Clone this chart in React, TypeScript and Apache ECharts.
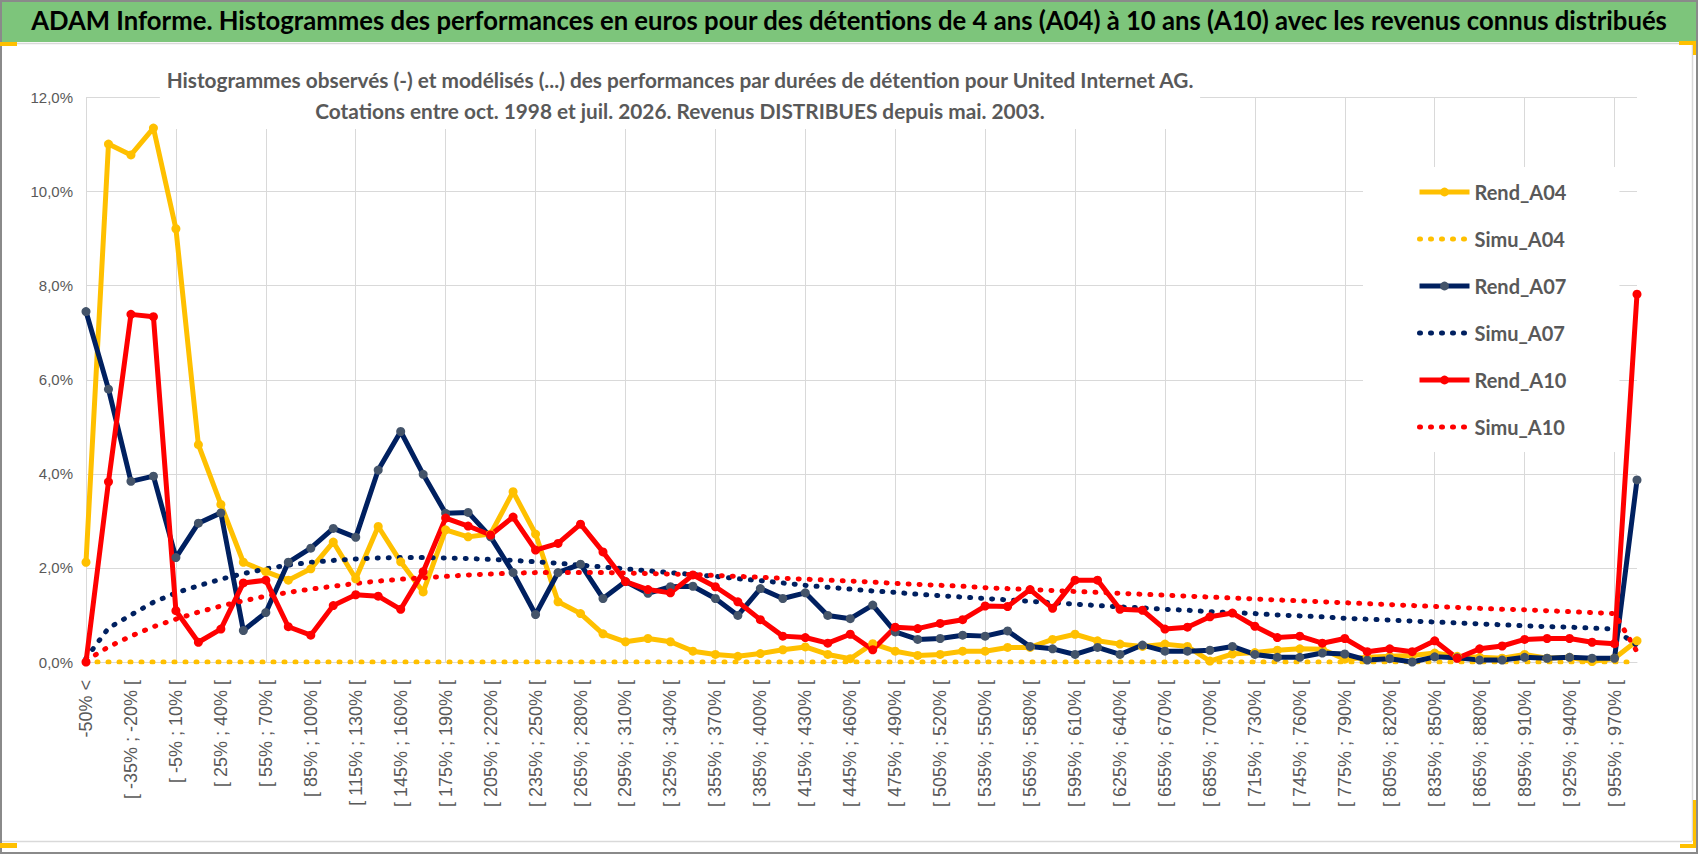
import React, { useEffect, useRef } from 'react';
import * as echarts from 'echarts';

const categories = [
  '-50% <',
  '[ -50% ; -35% [', '[ -35% ; -20% [', '[ -20% ; -5% [', '[ -5% ; 10% [', '[ 10% ; 25% [',
  '[ 25% ; 40% [', '[ 40% ; 55% [', '[ 55% ; 70% [', '[ 70% ; 85% [', '[ 85% ; 100% [',
  '[ 100% ; 115% [', '[ 115% ; 130% [', '[ 130% ; 145% [', '[ 145% ; 160% [', '[ 160% ; 175% [',
  '[ 175% ; 190% [', '[ 190% ; 205% [', '[ 205% ; 220% [', '[ 220% ; 235% [', '[ 235% ; 250% [',
  '[ 250% ; 265% [', '[ 265% ; 280% [', '[ 280% ; 295% [', '[ 295% ; 310% [', '[ 310% ; 325% [',
  '[ 325% ; 340% [', '[ 340% ; 355% [', '[ 355% ; 370% [', '[ 370% ; 385% [', '[ 385% ; 400% [',
  '[ 400% ; 415% [', '[ 415% ; 430% [', '[ 430% ; 445% [', '[ 445% ; 460% [', '[ 460% ; 475% [',
  '[ 475% ; 490% [', '[ 490% ; 505% [', '[ 505% ; 520% [', '[ 520% ; 535% [', '[ 535% ; 550% [',
  '[ 550% ; 565% [', '[ 565% ; 580% [', '[ 580% ; 595% [', '[ 595% ; 610% [', '[ 610% ; 625% [',
  '[ 625% ; 640% [', '[ 640% ; 655% [', '[ 655% ; 670% [', '[ 670% ; 685% [', '[ 685% ; 700% [',
  '[ 700% ; 715% [', '[ 715% ; 730% [', '[ 730% ; 745% [', '[ 745% ; 760% [', '[ 760% ; 775% [',
  '[ 775% ; 790% [', '[ 790% ; 805% [', '[ 805% ; 820% [', '[ 820% ; 835% [', '[ 835% ; 850% [',
  '[ 850% ; 865% [', '[ 865% ; 880% [', '[ 880% ; 895% [', '[ 895% ; 910% [', '[ 910% ; 925% [',
  '[ 925% ; 940% [', '[ 940% ; 955% [', '[ 955% ; 970% [',
  '>= 970%',
];

const rendA04 = [
  2.12, 11.01, 10.78, 11.35, 9.21, 4.62, 3.35, 2.12, 1.92, 1.74,
  1.98, 2.55, 1.77, 2.88, 2.13, 1.49, 2.81, 2.66, 2.72, 3.62,
  2.72, 1.28, 1.03, 0.60, 0.43, 0.50, 0.43, 0.23, 0.16, 0.12,
  0.18, 0.26, 0.32, 0.16, 0.07, 0.39, 0.23, 0.14, 0.16, 0.23,
  0.23, 0.31, 0.31, 0.48, 0.59, 0.45, 0.38, 0.33, 0.38, 0.33,
  0.02, 0.17, 0.20, 0.25, 0.28, 0.27, 0.06, 0.10, 0.12, 0.14,
  0.19, 0.12, 0.10, 0.08, 0.16, 0.08, 0.10, 0.01, 0.08, 0.45,
];

const simuA04 = [
  0, 0, 0, 0, 0, 0, 0, 0, 0, 0,
  0, 0, 0, 0, 0, 0, 0, 0, 0, 0,
  0, 0, 0, 0, 0, 0, 0, 0, 0, 0,
  0, 0, 0, 0, 0, 0, 0, 0, 0, 0,
  0, 0, 0, 0, 0, 0, 0, 0, 0, 0,
  0, 0, 0, 0, 0, 0, 0, 0, 0, 0,
  0, 0, 0, 0, 0, 0, 0, 0, 0, 0,
];

const rendA07 = [
  7.45, 5.80, 3.84, 3.95, 2.22, 2.95, 3.17, 0.67, 1.05, 2.12,
  2.42, 2.84, 2.65, 4.08, 4.90, 3.99, 3.16, 3.18, 2.66, 1.90,
  1.01, 1.90, 2.08, 1.35, 1.71, 1.46, 1.60, 1.61, 1.35, 0.99,
  1.56, 1.35, 1.47, 0.99, 0.92, 1.21, 0.64, 0.48, 0.50, 0.57,
  0.55, 0.66, 0.33, 0.28, 0.16, 0.31, 0.16, 0.36, 0.23, 0.23,
  0.25, 0.33, 0.16, 0.10, 0.10, 0.19, 0.17, 0.04, 0.07, 0.00,
  0.11, 0.09, 0.04, 0.04, 0.10, 0.08, 0.10, 0.08, 0.08, 3.87,
];

const simuA07 = [
  0.08, 0.72, 1.00, 1.27, 1.47, 1.62, 1.76, 1.88, 1.98, 2.06,
  2.12, 2.16, 2.19, 2.21, 2.22, 2.22, 2.21, 2.20, 2.18, 2.16,
  2.13, 2.10, 2.06, 2.02, 1.98, 1.94, 1.90, 1.86, 1.82, 1.77,
  1.73, 1.68, 1.63, 1.59, 1.55, 1.51, 1.48, 1.44, 1.41, 1.38,
  1.35, 1.32, 1.29, 1.26, 1.23, 1.20, 1.17, 1.15, 1.12, 1.10,
  1.07, 1.05, 1.03, 1.00, 0.98, 0.96, 0.93, 0.91, 0.89, 0.87,
  0.85, 0.83, 0.81, 0.79, 0.77, 0.75, 0.74, 0.72, 0.70, 0.35,
];

const rendA10 = [
  0.00, 3.83, 7.39, 7.34, 1.09, 0.42, 0.70, 1.68, 1.74, 0.75,
  0.57, 1.20, 1.43, 1.40, 1.12, 1.92, 3.06, 2.89, 2.70, 3.08,
  2.38, 2.52, 2.93, 2.34, 1.71, 1.54, 1.47, 1.85, 1.60, 1.28,
  0.90, 0.55, 0.52, 0.40, 0.59, 0.26, 0.74, 0.71, 0.82, 0.90,
  1.19, 1.18, 1.54, 1.14, 1.74, 1.74, 1.12, 1.10, 0.70, 0.74,
  0.96, 1.04, 0.76, 0.52, 0.55, 0.40, 0.50, 0.22, 0.28, 0.22,
  0.45, 0.08, 0.28, 0.34, 0.48, 0.50, 0.50, 0.42, 0.39, 7.82,
];

const simuA10 = [
  0.03, 0.32, 0.55, 0.75, 0.91, 1.06, 1.19, 1.30, 1.40, 1.48,
  1.55, 1.61, 1.67, 1.72, 1.76, 1.79, 1.82, 1.85, 1.87, 1.89,
  1.90, 1.90, 1.90, 1.90, 1.89, 1.88, 1.87, 1.86, 1.84, 1.82,
  1.80, 1.78, 1.76, 1.74, 1.72, 1.70, 1.67, 1.65, 1.63, 1.61,
  1.58, 1.56, 1.54, 1.52, 1.50, 1.48, 1.46, 1.44, 1.42, 1.40,
  1.38, 1.36, 1.34, 1.32, 1.30, 1.28, 1.26, 1.24, 1.22, 1.20,
  1.18, 1.16, 1.14, 1.12, 1.11, 1.09, 1.07, 1.05, 1.03, 0.22,
];

const TITLE =
  'ADAM Informe. Histogrammes des performances en euros pour des détentions de 4 ans (A04) à 10 ans (A10) avec les revenus connus distribués';
const SUBTITLE_1 =
  'Histogrammes observés (-) et modélisés (...) des performances par durées de détention pour United Internet AG.';
const SUBTITLE_2 = 'Cotations entre oct. 1998 et juil. 2026. Revenus DISTRIBUES depuis mai. 2003.';

const YELLOW = '#FFC000';
const NAVY = '#002060';
const NAVY_MARK = '#44546A';
const RED = '#FF0000';
const GRID = '#D9D9D9';
const TXT = '#595959';

export default function App() {
  const ref = useRef<HTMLDivElement>(null);

  useEffect(() => {
    if (!ref.current) return;
    const chart = echarts.init(ref.current, undefined, { renderer: 'svg' });

    const rend = (name: string, data: number[], lineColor: string, markColor: string) => ({
      name,
      type: 'line',
      data,
      symbol: 'circle',
      symbolSize: 9,
      showAllSymbol: true,
      lineStyle: { color: lineColor, width: 5 },
      itemStyle: { color: markColor },
    });
    const simu = (name: string, data: number[], color: string) => ({
      name,
      type: 'line',
      data,
      symbol: 'none',
      lineStyle: { color, width: 5, type: [1, 10], cap: 'round' },
      itemStyle: { color },
    });

    const dotted = { width: 5, type: [1, 10], cap: 'round' };

    chart.setOption({
      animation: false,
      backgroundColor: '#ffffff',
      title: [
        {
          text: TITLE,
          left: 849,
          top: 5,
          textAlign: 'center',
          padding: 0,
          textStyle: { fontFamily: 'Lato', fontWeight: 'bold', fontSize: 25.7, color: '#000000', lineHeight: 30 },
        },
        {
          text: SUBTITLE_1 + '\n' + SUBTITLE_2,
          left: 674,
          top: 61,
          textAlign: 'center',
          padding: [3, 6, 3, 6],
          backgroundColor: '#ffffff',
          textStyle: { fontFamily: 'Lato', fontWeight: 'bold', fontSize: 20.8, color: TXT, lineHeight: 31 },
        },
      ],
      legend: {
        orient: 'vertical',
        left: 1363,
        top: 167,
        padding: [15, 53, 15, 54],
        itemGap: 27,
        itemWidth: 50,
        itemHeight: 11,
        backgroundColor: '#ffffff',
        textStyle: { fontFamily: 'Lato', fontWeight: 'bold', fontSize: 20, color: TXT, lineHeight: 20 },
        data: [
          { name: 'Rend_A04', lineStyle: { width: 5 } },
          { name: 'Simu_A04', lineStyle: dotted, itemStyle: { opacity: 0 } },
          { name: 'Rend_A07', lineStyle: { width: 5 } },
          { name: 'Simu_A07', lineStyle: dotted, itemStyle: { opacity: 0 } },
          { name: 'Rend_A10', lineStyle: { width: 5 } },
          { name: 'Simu_A10', lineStyle: dotted, itemStyle: { opacity: 0 } },
        ],
      },
      grid: { left: 86, right: 61, top: 97.5, bottom: 192, containLabel: false },
      xAxis: {
        type: 'category',
        data: categories,
        boundaryGap: false,
        axisLine: { show: true, lineStyle: { color: GRID, width: 1 } },
        axisTick: { show: false },
        axisLabel: {
          interval: 1,
          rotate: 90,
          margin: 18,
          color: TXT,
          fontSize: 18,
          fontFamily: 'Liberation Sans',
        },
        splitLine: {
          show: true,
          interval: (i: number) => i % 4 === 0,
          lineStyle: { color: GRID, width: 1 },
        },
      },
      yAxis: {
        type: 'value',
        min: 0,
        max: 12,
        interval: 2,
        axisLine: { show: false },
        axisTick: { show: false },
        axisLabel: {
          margin: 13,
          color: TXT,
          fontSize: 15,
          fontFamily: 'Liberation Sans',
          formatter: (v: number) => v.toFixed(1).replace('.', ',') + '%',
        },
        splitLine: { show: true, lineStyle: { color: GRID, width: 1 } },
      },
      series: [
        rend('Rend_A04', rendA04, YELLOW, YELLOW),
        simu('Simu_A04', simuA04, YELLOW),
        rend('Rend_A07', rendA07, NAVY, NAVY_MARK),
        simu('Simu_A07', simuA07, NAVY),
        rend('Rend_A10', rendA10, RED, RED),
        simu('Simu_A10', simuA10, RED),
      ],
      graphic: {
        elements: [
          { type: 'rect', shape: { x: 0, y: 0, width: 1698, height: 42 }, style: { fill: '#7DC57B' }, z: -10 },
          { type: 'line', shape: { x1: 0, y1: 43.5, x2: 1692, y2: 43.5 }, style: { stroke: GRID, lineWidth: 1.5 }, z: -10 },
          { type: 'line', shape: { x1: 1692.5, y1: 43, x2: 1692.5, y2: 841 }, style: { stroke: GRID, lineWidth: 1.5 }, z: -10 },
          { type: 'line', shape: { x1: 0, y1: 841.5, x2: 1692, y2: 841.5 }, style: { stroke: GRID, lineWidth: 1.5 }, z: -10 },
          { type: 'rect', shape: { x: 1, y: 1, width: 1696, height: 852 }, style: { fill: 'none', stroke: '#8A8A8A', lineWidth: 2 }, z: 10 },
          { type: 'rect', shape: { x: 0, y: 42, width: 17, height: 4 }, style: { fill: YELLOW }, z: 11 },
          { type: 'rect', shape: { x: 0, y: 843, width: 17, height: 5 }, style: { fill: YELLOW }, z: 11 },
          { type: 'rect', shape: { x: 1679, y: 41, width: 17, height: 4 }, style: { fill: YELLOW }, z: 11 },
          { type: 'rect', shape: { x: 1693, y: 41, width: 3, height: 14 }, style: { fill: YELLOW }, z: 11 },
          { type: 'rect', shape: { x: 1693, y: 800, width: 3, height: 48 }, style: { fill: YELLOW }, z: 11 },
          { type: 'rect', shape: { x: 1680, y: 844, width: 16, height: 4 }, style: { fill: YELLOW }, z: 11 },
        ],
      },
    });

    return () => chart.dispose();
  }, []);

  return (
    <div
      ref={ref}
      style={{ position: 'fixed', left: 0, top: 0, width: 1698, height: 854, background: '#ffffff' }}
    />
  );
}
